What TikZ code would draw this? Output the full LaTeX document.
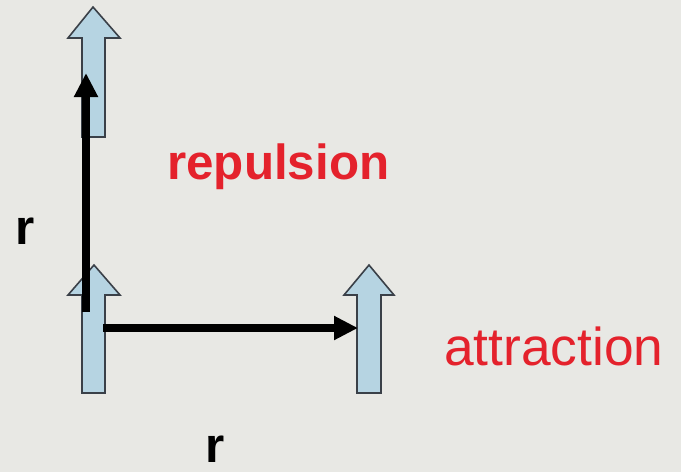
\documentclass[tikz,border=0pt]{standalone}
\usepackage{fontspec}
\setmainfont{Liberation Sans}
\usetikzlibrary{arrows.meta}
\definecolor{bg}{HTML}{E8E8E4}
\definecolor{spinfill}{HTML}{B6D4E2}
\definecolor{spinline}{HTML}{3A4048}
\definecolor{labred}{HTML}{E4222C}
\tikzset{
  spin/.style={fill=spinfill,draw=spinline,line width=1.2pt,line join=miter},
  vec/.style={line width=5.5pt,-{Triangle[length=18pt,width=17pt]}},
  bigbold/.style={font=\fontsize{37}{40}\selectfont\bfseries,inner sep=0pt},
  bigreg/.style={font=\fontsize{40}{44}\selectfont,inner sep=0pt}
}
\begin{document}
\begin{tikzpicture}[x=0.75pt,y=-0.75pt]
\fill[bg] (0,0) rectangle (681,472);
\useasboundingbox (0,0) rectangle (681,472);
% spins
\draw[spin] (93,7) -- (120,38) -- (105,38) -- (105,137) -- (82,137) -- (82,38) -- (68,38) -- cycle;
\draw[spin] (94,265) -- (120,295) -- (105,295) -- (105,393) -- (82,393) -- (82,295) -- (68,295) -- cycle;
\draw[spin] (369,265) -- (394,295) -- (381,295) -- (381,393) -- (357,393) -- (357,295) -- (344,295) -- cycle;
% anchor points
\coordinate (vstart) at (86,312);
\coordinate (vend) at (86,73);
\coordinate (hstart) at (103,328);
\coordinate (hend) at (358,328);
\draw[vec] (vstart) -- (vend);
\draw[vec] (hstart) -- (hend);
% labels
\node[bigbold,text=labred,anchor=west] (rep) at (167,167) {repulsion};
\node[bigreg,text=labred,anchor=west] (att) at (444,346) {attraction};
\node[bigbold,anchor=center] (r1) at (25,231) {r};
\node[bigbold,anchor=center] (r2) at (215,449) {r};
\end{tikzpicture}
\end{document}
